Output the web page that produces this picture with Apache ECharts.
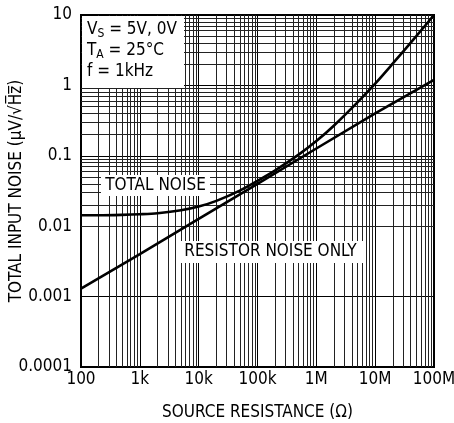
<!DOCTYPE html>
<html><head><meta charset="utf-8">
<script src="https://cdn.jsdelivr.net/npm/echarts@6/dist/echarts.min.js"></script>
<style>html,body{margin:0;padding:0;background:#fff}#c{width:454px;height:423px}</style>
</head><body><div id="c"></div>
<script>
// Data (log-log)
const resistance = [100, 200, 500, 1e3, 2e3, 5e3, 1e4, 2e4, 5e4, 1e5, 2e5, 5e5, 1e6, 2e6, 5e6, 1e7, 2e7, 5e7, 1e8];
const totalNoise = [0.0143, 0.0143, 0.0145, 0.0148, 0.0153, 0.0168, 0.019, 0.0229, 0.032, 0.044, 0.062, 0.104, 0.162, 0.27, 0.575, 1.06, 2.05, 5.0, 10];
const resistorR = [100, 1e3, 1e4, 1e5, 1e6, 1e7, 1e8];
const resistorNoise = [0.0013, 0.004, 0.0127, 0.04, 0.127, 0.4, 1.2];
const xTickLabels = {2:'100',3:'1k',4:'10k',5:'100k',6:'1M',7:'10M',8:'100M'};
const yTickLabels = {'-4':'0.0001','-3':'0.001','-2':'0.01','-1':'0.1','0':'1','1':'10'};
const xMinor = [], yMinor = [];
for (let e = 2; e < 8; e++) for (let m = 2; m <= 9; m++) xMinor.push(m * Math.pow(10, e));
for (let e = -4; e < 1; e++) for (let m = 2; m <= 9; m++) yMinor.push(+(m * Math.pow(10, e)).toPrecision(3));

const FONT = '"DejaVu Sans Condensed", "Liberation Sans Narrow", sans-serif';
const chart = echarts.init(document.getElementById('c'));
const gridColor = '#222';
chart.setOption({
  animation: false,
  grid: {left: 81, right: 20, top: 15, bottom: 56, show: true, borderColor: '#000', borderWidth: 2,
         containLabel: false, outerBoundsMode: 'none'},
  xAxis: {
    type: 'log', logBase: 10, min: 100, max: 1e8,
    name: 'SOURCE RESISTANCE (Ω)', nameLocation: 'middle', nameGap: 37,
    nameTextStyle: {fontFamily: FONT, fontSize: 17, color: '#000'},
    axisLine: {lineStyle: {color: '#000', width: 2}},
    axisTick: {show: false},
    axisLabel: {fontFamily: FONT, fontSize: 17, color: '#000', margin: 4,
      formatter: v => xTickLabels[Math.round(Math.log10(v))] || ''},
    splitLine: {show: true, lineStyle: {color: '#000', width: 1}}
  },
  yAxis: {
    type: 'log', logBase: 10, min: 0.0001, max: 10,
    axisLine: {lineStyle: {color: '#000', width: 2}},
    axisTick: {show: false},
    axisLabel: {fontFamily: FONT, fontSize: 17, color: '#000', margin: 9,
      formatter: v => yTickLabels[String(Math.round(Math.log10(v)))] || ''},
    splitLine: {show: true, lineStyle: {color: '#000', width: 1}}
  },
  series: [
    {
      type: 'line', data: [], silent: true,
      markLine: {
        silent: true, symbol: 'none', label: {show: false}, animation: false,
        lineStyle: {color: gridColor, width: 1, type: 'solid'},
        data: xMinor.map(v => ({xAxis: v})).concat(yMinor.map(v => ({yAxis: v})))
      }
    },
    {
      name: 'Total', type: 'line', showSymbol: false, smooth: 0.3, z: 5,
      data: resistance.map((r, i) => [r, totalNoise[i]]),
      lineStyle: {color: '#000', width: 2.6}
    },
    {
      name: 'Resistor', type: 'line', showSymbol: false, z: 5,
      data: resistorR.map((r, i) => [r, resistorNoise[i]]),
      lineStyle: {color: '#000', width: 2.6}
    }
  ],
  graphic: [
    {type: 'text', z: 101, x: 17, y: 191, rotation: Math.PI / 2, style: {
      text: 'TOTAL INPUT NOISE (µV/√H\u0305z\u0305)', fontFamily: FONT, fontSize: 17, fill: '#000',
      align: 'center', verticalAlign: 'middle'}},
    {type: 'rect', z: 100, shape: {x: 82, y: 16, width: 102, height: 72}, style: {fill: '#fff'}},
    {type: 'text', z: 101, left: 87, top: 20, style: {
      rich: {a: {fontFamily: FONT, fontSize: 17, fill: '#000', lineHeight: 21},
             s: {fontFamily: FONT, fontSize: 12, fill: '#000', lineHeight: 21, padding: [8, 0, 0, 0]}},
      text: '{a|V}{s|S}{a| = 5V, 0V}\n{a|T}{s|A}{a| = 25°C}\n{a|f = 1kHz}'
    }},
    {type: 'rect', z: 100, shape: {x: 101, y: 175, width: 109, height: 21}, style: {fill: '#fff'}},
    {type: 'text', z: 101, x: 155.5, y: 186, style: {text: 'TOTAL NOISE', fontFamily: FONT, fontSize: 17, fill: '#000', align: 'center', verticalAlign: 'middle'}},
    {type: 'rect', z: 100, shape: {x: 177, y: 241, width: 187, height: 22}, style: {fill: '#fff'}},
    {type: 'text', z: 101, x: 270.5, y: 252, style: {text: 'RESISTOR NOISE ONLY', fontFamily: FONT, fontSize: 17, fill: '#000', align: 'center', verticalAlign: 'middle'}}
  ]
});
</script></body></html>
